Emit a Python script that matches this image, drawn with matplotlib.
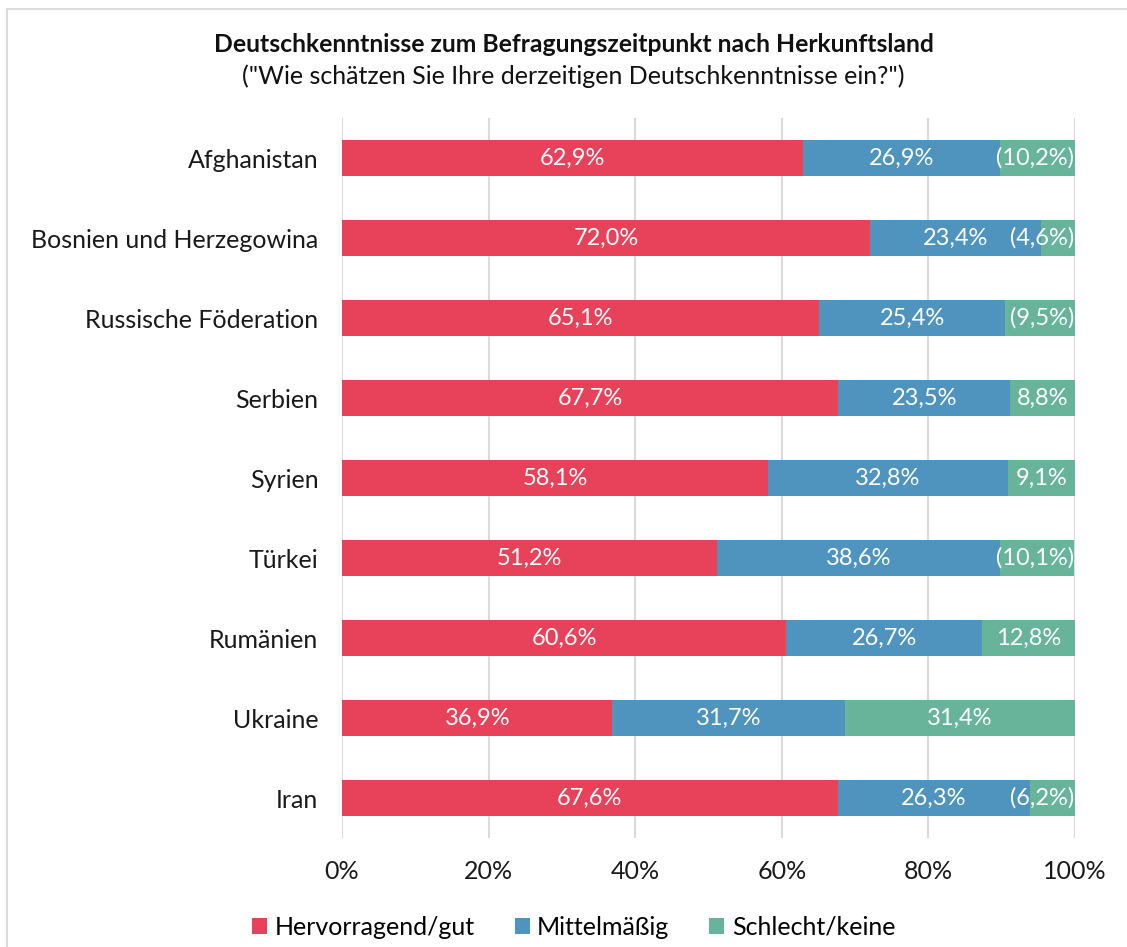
import numpy as np
import matplotlib.pyplot as plt
from matplotlib.patches import Rectangle

plt.rcParams['font.family'] = ['Lato', 'DejaVu Sans']

countries = ['Afghanistan', 'Bosnien und Herzegowina', 'Russische Föderation',
             'Serbien', 'Syrien', 'Türkei', 'Rumänien', 'Ukraine', 'Iran']
gut = [62.9, 72.0, 65.1, 67.7, 58.1, 51.2, 60.6, 36.9, 67.6]
mittel = [26.9, 23.4, 25.4, 23.5, 32.8, 38.6, 26.7, 31.7, 26.3]
schlecht = [10.2, 4.6, 9.5, 8.8, 9.1, 10.1, 12.8, 31.4, 6.2]
# values shown in brackets in the original (small case numbers)
bracketed = [True, True, True, False, False, True, False, False, True]

series_names = ['Hervorragend/gut', 'Mittelmäßig', 'Schlecht/keine']
colors = ['#E8425B', '#4F94BE', '#67B49B']
xticks = [0, 20, 40, 60, 80, 100]

FS = 18
LFS = 17

fig = plt.figure(figsize=(11.27, 9.47), dpi=100)
ax = fig.add_axes([342/1127, 1-838/947, 733/1127, 720/947])

y = np.arange(len(countries))
h = 0.44
left = np.zeros(len(countries))
for vals, c, name in zip([gut, mittel, schlecht], colors, series_names):
    vals = np.array(vals)
    ax.barh(y, vals, left=left, height=h, color=c, label=name, zorder=3)
    left += vals

def fmt(v):
    return ('%.1f%%' % v).replace('.', ',')

for i in range(len(countries)):
    ax.text(gut[i] / 2, y[i], fmt(gut[i]), ha='center', va='center',
            color='white', fontsize=LFS, zorder=4)
    ax.text(gut[i] + mittel[i] / 2, y[i], fmt(mittel[i]), ha='center', va='center',
            color='white', fontsize=LFS, zorder=4)
    lab = fmt(schlecht[i])
    if bracketed[i]:
        lab = '(' + lab + ')'
    xc = gut[i] + mittel[i] + schlecht[i] / 2
    if bracketed[i]:
        # bracketed labels are pushed inside the right edge
        ax.text(99.9, y[i], lab, ha='right', va='center', color='white',
                fontsize=LFS, zorder=4)
    else:
        ax.text(xc, y[i], lab, ha='center', va='center', color='white',
                fontsize=LFS, zorder=4)

ax.set_xlim(0, 100)
ax.set_ylim(len(countries) - 0.5, -0.5)
ax.set_yticks(y)
ax.set_yticklabels(countries, fontsize=FS, color='#1A1A1A')
ax.set_xticks(xticks)
ax.set_xticklabels(['%d%%' % t for t in xticks], fontsize=FS, color='#1A1A1A')
ax.tick_params(axis='y', length=0, pad=17)
ax.tick_params(axis='x', length=0, pad=16)
ax.grid(axis='x', color='#DADADA', linewidth=1.5, zorder=0)
for s in ax.spines.values():
    s.set_visible(False)

fig.text(0.509, 1-45/947, 'Deutschkenntnisse zum Befragungszeitpunkt nach Herkunftsland',
         ha='center', va='center', fontsize=17.8, fontweight='bold', color='#111111')
fig.text(0.509, 1-76/947, '("Wie schätzen Sie Ihre derzeitigen Deutschkenntnisse ein?")',
         ha='center', va='center', fontsize=18, color='#111111')

fig.legend(loc='center', bbox_to_anchor=(0.509, 1-927/947), ncol=3, frameon=False,
           fontsize=FS, handlelength=0.6, handleheight=0.6, handletextpad=0.3,
           columnspacing=1.6)

fig.patches.append(Rectangle((7/1127, -0.1), 1.2, 1.1 - 9/947,
                             transform=fig.transFigure, fill=False,
                             edgecolor='#DDDDDD', linewidth=1.5))

fig.savefig('out.png', dpi=100)
